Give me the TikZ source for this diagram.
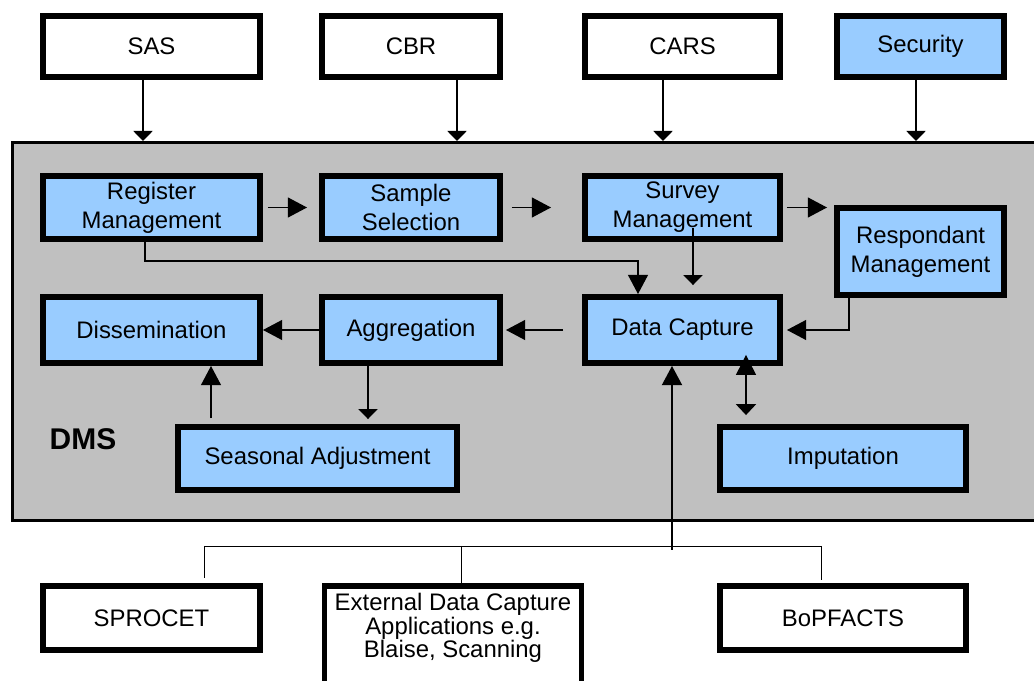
\documentclass[tikz,border=0pt]{standalone}
\usepackage{fontspec}
\setmainfont{Liberation Sans}
\usetikzlibrary{arrows.meta}

\definecolor{modblue}{HTML}{99CCFF}
\definecolor{dmsgrey}{HTML}{C0C0C0}

\tikzset{
  blk/.style={draw, line width=4.2pt, inner sep=2pt, align=center,
    font=\fontsize{17}{20.5}\selectfont},
  modblk/.style={blk, fill=modblue},
  extblk/.style={blk, fill=white},
  link/.style={line width=0.9pt},
  bigarr/.style={link, -{Triangle[width=0.5cm,length=0.48cm]}},
  smallarr/.style={link, -{Triangle[width=0.48cm,length=0.25cm]}},
}

\begin{document}
\begin{tikzpicture}[x=0.025cm, y=-0.025cm]
  \clip (0,0) rectangle (1034,681);
  \fill[white] (0,0) rectangle (1034,681);

  % the DMS system, runs off the right edge
  \node[draw, fill=dmsgrey, line width=1.8pt, minimum width=25.8cm, minimum height=9.46cm] (dms) at (528.75,331.5) {};
  \node[font=\fontsize{21.3}{24}\selectfont\bfseries] (dmslabel) at (83,439) {DMS};

  % feeding systems along the top
  \node[extblk, minimum width=5.425cm, minimum height=1.525cm] (sas) at (151.5,46.5) {SAS};
  \node[extblk, minimum width=4.45cm,  minimum height=1.525cm] (cbr) at (411,46.5) {CBR};
  \node[extblk, minimum width=4.875cm, minimum height=1.525cm] (cars) at (682.5,46.5) {CARS};
  \node[modblk, minimum width=4.175cm, minimum height=1.525cm] (sec) at (920.5,46.5) {Security};

  \draw[smallarr] ([shift={(-8.5,0)}]sas.south) -- ([shift={(-8.5,0)}]sas.south |- dms.north);
  \draw[smallarr] ([shift={(46,0)}]cbr.south) -- ([shift={(46,0)}]cbr.south |- dms.north);
  \draw[smallarr] ([shift={(-19.5,0)}]cars.south) -- ([shift={(-19.5,0)}]cars.south |- dms.north);
  \draw[smallarr] ([shift={(-4.5,0)}]sec.south) -- ([shift={(-4.5,0)}]sec.south |- dms.north);

  % DMS modules
  \node[modblk, minimum width=5.425cm, minimum height=1.575cm] (reg) at (151.5,207.5) {Register\\Management};
  \node[modblk, minimum width=4.45cm,  minimum height=1.575cm] (samp) at (411,207.5) {Sample\\Selection};
  \node[modblk, minimum width=4.875cm, minimum height=1.575cm] (surv) at (682.5,207.5) {Survey\\Management};
  \node[modblk, minimum width=4.175cm, minimum height=2.175cm] (resp) at (920.5,251.5) {Respondant\\Management};

  \node[modblk, minimum width=5.425cm, minimum height=1.65cm] (diss) at (151.5,330) {Dissemination};
  \node[modblk, minimum width=4.45cm,  minimum height=1.65cm] (agg) at (411,330) {Aggregation};
  \node[modblk, minimum width=4.875cm, minimum height=1.65cm] (dc) at (682.5,330) {Data Capture};

  \node[modblk, minimum width=6.975cm, minimum height=1.575cm] (seas) at (317.5,458.5) {Seasonal Adjustment};
  \node[modblk, minimum width=6.15cm,  minimum height=1.575cm] (imp) at (843,458.5) {Imputation};

  \draw[bigarr, shorten <=0.125cm, shorten >=0.3cm] (reg.east) -- (samp.west);
  \draw[bigarr, shorten <=0.225cm, shorten >=0.775cm] (samp.east) -- (surv.west);
  \draw[bigarr, shorten <=0.1cm, shorten >=0.175cm] (surv.east) -- (surv.east -| resp.west);

  \draw[bigarr] ([shift={(-6.5,-5)}]reg.south) |- ([shift={(-44.5,-33)}]dc.north) -- ([shift={(-44.5,0)}]dc.north);
  \draw[smallarr] ([shift={(10.5,-14)}]surv.south) -- ([shift={(10.5,-9)}]dc.north);
  \draw[bigarr, shorten >=0.1cm] ([shift={(-71.5,0)}]resp.south) |- (dc.east);

  \draw[bigarr, shorten <=0.475cm, shorten >=0.075cm] (dc.west) -- (agg.east);
  \draw[bigarr] (agg.west) -- (diss.east);
  \draw[smallarr, shorten >=0.125cm] ([shift={(-43,0)}]agg.south) -- ([shift={(-43,0)}]agg.south |- seas.north);
  \draw[bigarr, shorten <=0.15cm] ([shift={(59.5,0)}]diss.south |- seas.north) -- ([shift={(59.5,0)}]diss.south);
  \draw[link, {Triangle[width=0.5cm,length=0.5cm]}-{Triangle[width=0.5cm,length=0.27cm]}, shorten >=0.225cm]
    ([shift={(63.5,-11)}]dc.south) -- ([shift={(63.5,0)}]dc.south |- imp.north);

  % capture applications below
  \node[extblk, minimum width=5.425cm, minimum height=1.6cm] (sproc) at (151.5,618) {SPROCET};
  \node[extblk, minimum width=6.15cm,  minimum height=1.6cm] (bopf) at (843,618) {BoPFACTS};
  \node[extblk, anchor=north, minimum width=6.425cm, minimum height=3cm] (ext) at (453,583) {};
  \node[font=\fontsize{17}{16.8}\selectfont, align=center] (exttext) at (453,628)
    {External Data Capture\\Applications e.g.\\Blaise, Scanning};

  \coordinate (busl) at (204,546);
  \coordinate (busm) at (461,546);
  \coordinate (busr) at (821,546);
  \coordinate (feed) at (672,550);
  \draw[line width=0.7pt] (busl) -- (busr);
  \draw[line width=0.7pt, shorten >=0.125cm] (busl) -- (busl |- sproc.north);
  \draw[line width=0.7pt] (busm) -- (busm |- ext.north);
  \draw[line width=0.7pt, shorten >=0.075cm] (busr) -- (busr |- bopf.north);
  \draw[bigarr, line width=1.4pt] (feed) -- (feed |- dc.south);
\end{tikzpicture}
\end{document}
